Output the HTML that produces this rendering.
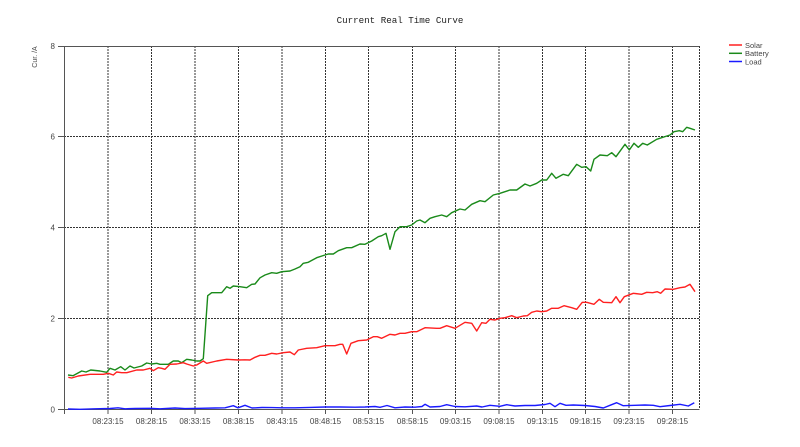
<!DOCTYPE html>
<html><head><meta charset="utf-8"><style>
html,body{margin:0;padding:0;background:#fff;}
svg{display:block;}
text{font-family:"Liberation Sans",sans-serif;}
</style></head><body>
<svg width="800" height="447" viewBox="0 0 800 447" xmlns="http://www.w3.org/2000/svg">
<rect width="800" height="447" fill="#fff"/>
<text x="400" y="23" text-anchor="middle" style="font-family:'Liberation Mono',monospace;font-size:9.2px" fill="#222">Current Real Time Curve</text>
<text transform="translate(37,57) rotate(-90)" text-anchor="middle" style="font-size:7px" fill="#444">Cur. /A</text>
<g stroke="#333" stroke-width="1" stroke-dasharray="2,1" fill="none">
<line x1="64" y1="136.5" x2="699.5" y2="136.5"/>
<line x1="64" y1="227.5" x2="699.5" y2="227.5"/>
<line x1="64" y1="318.5" x2="699.5" y2="318.5"/>
<line x1="108" y1="46" x2="108" y2="409"/>
<line x1="151.5" y1="46" x2="151.5" y2="409"/>
<line x1="195" y1="46" x2="195" y2="409"/>
<line x1="238.5" y1="46" x2="238.5" y2="409"/>
<line x1="282" y1="46" x2="282" y2="409"/>
<line x1="325.5" y1="46" x2="325.5" y2="409"/>
<line x1="368.5" y1="46" x2="368.5" y2="409"/>
<line x1="412.5" y1="46" x2="412.5" y2="409"/>
<line x1="455.5" y1="46" x2="455.5" y2="409"/>
<line x1="499" y1="46" x2="499" y2="409"/>
<line x1="542.5" y1="46" x2="542.5" y2="409"/>
<line x1="585.5" y1="46" x2="585.5" y2="409"/>
<line x1="629" y1="46" x2="629" y2="409"/>
<line x1="672.5" y1="46" x2="672.5" y2="409"/>
<line x1="699.5" y1="46" x2="699.5" y2="409"/>
</g>
<g stroke="#555" stroke-width="1" fill="none">
<line x1="58" y1="46.5" x2="699.5" y2="46.5"/>
<line x1="64.5" y1="46" x2="64.5" y2="414"/>
<line x1="58" y1="409.5" x2="699.5" y2="409.5"/>
<line x1="58" y1="136.5" x2="64" y2="136.5"/>
<line x1="58" y1="227.5" x2="64" y2="227.5"/>
<line x1="58" y1="318.5" x2="64" y2="318.5"/>
<line x1="108" y1="409" x2="108" y2="414"/>
<line x1="151.5" y1="409" x2="151.5" y2="414"/>
<line x1="195" y1="409" x2="195" y2="414"/>
<line x1="238.5" y1="409" x2="238.5" y2="414"/>
<line x1="282" y1="409" x2="282" y2="414"/>
<line x1="325.5" y1="409" x2="325.5" y2="414"/>
<line x1="368.5" y1="409" x2="368.5" y2="414"/>
<line x1="412.5" y1="409" x2="412.5" y2="414"/>
<line x1="455.5" y1="409" x2="455.5" y2="414"/>
<line x1="499" y1="409" x2="499" y2="414"/>
<line x1="542.5" y1="409" x2="542.5" y2="414"/>
<line x1="585.5" y1="409" x2="585.5" y2="414"/>
<line x1="629" y1="409" x2="629" y2="414"/>
<line x1="672.5" y1="409" x2="672.5" y2="414"/>
</g>
<g style="font-size:8px" fill="#444" text-anchor="end">
<text x="55" y="49">8</text>
<text x="55" y="139.5">6</text>
<text x="55" y="230.5">4</text>
<text x="55" y="321.5">2</text>
<text x="55" y="412.5">0</text>
</g>
<g style="font-size:8px" fill="#444" text-anchor="middle">
<text x="108" y="424">08:23:15</text>
<text x="151.5" y="424">08:28:15</text>
<text x="195" y="424">08:33:15</text>
<text x="238.5" y="424">08:38:15</text>
<text x="282" y="424">08:43:15</text>
<text x="325.5" y="424">08:48:15</text>
<text x="368.5" y="424">08:53:15</text>
<text x="412.5" y="424">08:58:15</text>
<text x="455.5" y="424">09:03:15</text>
<text x="499" y="424">09:08:15</text>
<text x="542.5" y="424">09:13:15</text>
<text x="585.5" y="424">09:18:15</text>
<text x="629" y="424">09:23:15</text>
<text x="672.5" y="424">09:28:15</text>
</g>
<g fill="none" stroke-width="1.4" stroke-linejoin="round">
<polyline stroke="#1a8a1a" points="68,375 73,375.7 81.7,371 86,372 90.7,370 100,371 106.7,372.3 110,368.3 115,370 120.7,366.7 125,370 130,366 134,368 141.7,366 146.7,363 151.7,364 156.7,363.3 160,364.3 168.3,364.3 173.3,361 178.3,361 181.7,362.7 186.7,359.3 191.7,360 196.7,361 200,361 203.3,358.7 207.7,295.7 211.7,292.7 221.7,292.7 226.7,286.7 230,288.3 233.3,286 240,286.7 246.7,287.7 251.7,284.3 255,284 260,277.8 265,275 271.7,272.7 276.7,273.3 281.7,271.7 290,271 295,269 300,266.7 303.3,263.3 308.3,262.3 316.7,257.7 325,255 328.3,254 333.3,254 338.3,250.7 346.7,247.7 351.7,247.7 360,244 365,244.3 371.7,241 378.3,236.7 381.7,235.7 386,233.3 390,249.3 395,231.7 400,226.7 406.7,226.7 411.7,225 416.7,221 420,220 425,222.7 430,218.3 435,216.7 441.7,215 446.7,216.7 451.7,212.7 460,209 465,210 471.7,204.3 480,200.7 485,201.7 493.3,195 500,193.3 510,190 516.7,190 525,184 530,186 536.7,183.3 541.7,180 546.7,180 551.7,173.3 556,178.3 563.3,174.3 568.3,175.7 576.7,164.3 581.7,167.3 586,166.7 590.7,171 594,159.3 600,155 607.3,155.7 611.7,152.7 616,156.7 625,144.3 629.3,150 634,143.3 638.3,147.3 642.7,143.3 647.3,145 656.7,139.3 670,135 674,131.7 679.3,130.7 682.7,131.7 686.7,127.3 690,128.3 695,130"/>
<polyline stroke="#ff2020" points="68.3,377.3 71.7,378 78.3,376 90,374.3 103.3,374.3 108.3,373.3 113.3,375 116.7,372 121.7,372.7 126.7,372.7 136.7,370 143.3,370 150,368.3 153.3,370.7 158.3,367.7 161.7,368.3 165,369.3 170,364.3 176.7,364 183.3,362.7 186.7,364 193.3,366 196.7,365 203.3,361 206.7,363.3 216.7,361 226.7,359.3 238.3,360 245,359.8 250,360 255,357.3 260,355.3 265,355.3 271.7,353.3 276.7,354 283.3,352.7 290,352 294.3,354.7 298.3,350 306.7,348.3 316.7,347.7 325,345.7 335,345.7 340,344.3 342.7,344.3 346.7,354 351,343.3 358.3,340.7 366.7,340 373.3,336.7 377.3,336.7 381.7,338.3 390,334.3 395,335 400,333.3 405,333.3 411.7,331.7 416.7,331.7 425,327.7 436.7,328.3 440,328.3 446.7,325.7 455,328.3 465,322.3 471.7,323.3 476.7,331 481.7,322.7 486,323.3 490,319.3 495,320 500,318.3 505,317.7 511.7,315.7 516.7,317.7 523.3,316 527.3,315.7 531.7,312.3 536.7,311 541.7,311.7 546.7,311 551.7,308.3 558.3,308.3 564,305.7 571.7,307.7 576.7,309.3 582.3,302.3 586.7,302.3 594,304.3 599.3,299.3 603.3,302.3 611.7,302.7 616,296.7 620,302.7 624.3,296.7 633.3,293.3 641.7,294.3 646.7,292.3 652.7,292.7 657.3,291.7 660.7,293.3 665,289 673.3,289.3 680,287.7 685,287 690,284.3 695,291.7"/>
<polyline stroke="#1a1aff" points="68,409 80,409.3 95,408.8 110,408.5 118,407.8 125,408.8 135,408.5 150,408.3 160,408.8 175,408 185,408.6 200,408.3 215,408 225,407.8 233.3,405.7 238,407.8 245,405.3 252,408 262,407.5 272,407.6 282,407.8 295,407.8 310,407.4 325,407 340,407 355,407.2 365,407 375,406.5 380,407.3 387,405.5 395,407.8 405,407 415,407.2 422,406.5 425,404.3 430,407 440,406.5 446.7,404.7 455,406.5 465,406.8 476.7,406 482,407 490,405.3 500,406.3 506.7,404.7 515,406 525,405.5 535,405.5 545,404.5 550,403.3 555,406.7 560,403.3 566,405.3 573.3,405 585,405.5 595,406.5 603.3,408 610,405.3 616.7,402.7 623.3,405.7 635,405.3 645,405 653.3,405.3 660,406.7 670,405.5 680,404.3 688.3,406 694.3,402.7"/>
</g>
<g stroke-width="1.5">
<line x1="729" y1="45" x2="742" y2="45" stroke="#ff2020"/>
<line x1="729" y1="53.3" x2="742" y2="53.3" stroke="#1a8a1a"/>
<line x1="729" y1="61.5" x2="742" y2="61.5" stroke="#1a1aff"/>
</g>
<g style="font-size:7.5px" fill="#444">
<text x="745" y="47.8">Solar</text>
<text x="745" y="56">Battery</text>
<text x="745" y="64.3">Load</text>
</g>
</svg>
</body></html>
